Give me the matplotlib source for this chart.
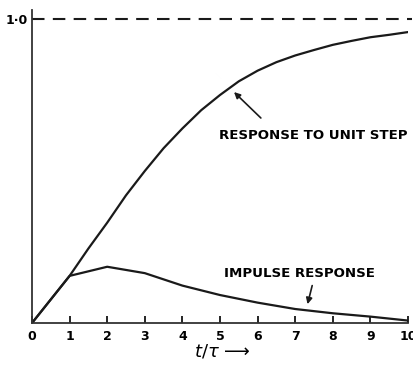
import matplotlib.pyplot as plt

# time in units of tau
t = [0, 1, 2, 3, 4, 5, 6, 7, 8, 9, 10]
step_t = [0, 1, 1.5, 2, 2.5, 3, 3.5, 4, 4.5, 5, 5.5, 6, 6.5, 7, 7.5, 8, 8.5, 9, 9.5, 10]
step_resp = [0, 0.155, 0.245, 0.33, 0.42, 0.50, 0.575, 0.64, 0.70, 0.75, 0.795,
             0.83, 0.858, 0.88, 0.898, 0.915, 0.928, 0.94, 0.948, 0.957]
impulse_resp = [0, 0.155, 0.185, 0.164, 0.123, 0.092, 0.067, 0.046, 0.032, 0.021, 0.008]

x_ticks = [0, 1, 2, 3, 4, 5, 6, 7, 8, 9, 10]
x_ticklabels = ['0', '1', '2', '3', '4', '5', '6', '7', '8', '9', '10']

fig = plt.figure(figsize=(4.14, 3.65), dpi=100)
ax = fig.add_axes([32 / 414, 42 / 365, 376 / 414, 313 / 365])

ax.plot(step_t, step_resp, color='#1a1a1a', lw=1.6, solid_capstyle='round')
ax.plot(t, impulse_resp, color='#1a1a1a', lw=1.6, solid_joinstyle='round')
ax.axhline(1.0, xmin=0, xmax=1.01, color='#1a1a1a', lw=1.5, dashes=(6, 4), clip_on=False)

ax.set_xlim(0, 10)
ax.set_ylim(0, 313 / 304)
for s in ['top', 'right']:
    ax.spines[s].set_visible(False)
for s in ['left', 'bottom']:
    ax.spines[s].set_linewidth(1.3)
    ax.spines[s].set_color('#333333')

ax.set_xticks(x_ticks)
ax.set_xticklabels(x_ticklabels, fontsize=9, fontweight='bold')
ax.set_yticks([1.0])
ax.set_yticklabels(['1·0'], fontsize=9, fontweight='bold')
ax.tick_params(axis='x', direction='in', length=5, width=1.2, pad=5)
ax.tick_params(axis='y', direction='in', length=4, width=1.2, pad=3)

ax.text(4.97, 0.618, 'RESPONSE TO UNIT STEP', fontsize=9.6, fontweight='bold',
        ha='left', va='center')
ax.annotate('', xy=(5.32, 0.766), xytext=(6.14, 0.668),
            arrowprops=dict(arrowstyle='-|>', color='#1a1a1a', lw=1.2,
                            mutation_scale=9))

ax.text(7.1, 0.164, 'IMPULSE RESPONSE', fontsize=9.6, fontweight='bold',
        ha='center', va='center')
ax.annotate('', xy=(7.31, 0.053), xytext=(7.47, 0.132),
            arrowprops=dict(arrowstyle='-|>', color='#1a1a1a', lw=1.2,
                            mutation_scale=9))

fig.text(222 / 414, 1 - 352 / 365, r'$t/\tau$ ⟶', fontsize=13,
         ha='center', va='center')

fig.savefig('out.png', dpi=100)
